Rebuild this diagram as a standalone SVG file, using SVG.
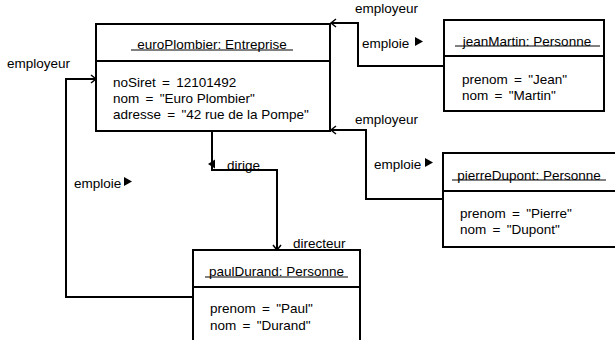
<svg xmlns="http://www.w3.org/2000/svg" width="615" height="340" viewBox="0 0 615 340">
  <style>
    text { font-family: "Liberation Sans", Arial, sans-serif; font-size: 13.5px; fill: #000; }
    .title { text-anchor: middle; }
    .eq { word-spacing: 2.5px; }
    .box { fill: #fff; stroke: #000; stroke-width: 2; }
    .sep { stroke: #000; stroke-width: 2; }
    .ul { stroke: #000; stroke-width: 1; }
    .conn { fill: none; stroke: #000; stroke-width: 2; marker-end: url(#open); }
    .tri { fill: #000; }
  </style>
  <defs>
    <marker id="open" viewBox="-8 -6 10 12" markerWidth="10" markerHeight="12" refX="0" refY="0" orient="auto" markerUnits="userSpaceOnUse">
      <path d="M-5,-4 L0,0 L-5,4" fill="none" stroke="#000" stroke-width="1.5"/>
    </marker>
  </defs>

  <!-- links between objects -->
  <g id="connectors">
    <path class="conn" d="M444,66 H358 V23 H331"/>
    <path class="conn" d="M443,199 H366 V130 H331"/>
    <path class="conn" d="M193,297 H66 V79 H96"/>
    <path class="conn" d="M212,132 V170 H277 V250"/>

    <text x="355" y="13">employeur</text>
    <text x="362" y="48">emploie</text>
    <polygon class="tri" points="415,37 423,41.5 415,46"/>

    <text x="355" y="124">employeur</text>
    <text x="374" y="169">emploie</text>
    <polygon class="tri" points="425,158 433,162.5 425,167"/>

    <text x="7" y="68">employeur</text>
    <text x="74" y="188">emploie</text>
    <polygon class="tri" points="124,177 132,181.5 124,186"/>

    <polygon class="tri" points="208,164 215,159.5 215,168.5"/>
    <text x="227" y="170">dirige</text>
    <text x="293" y="248">directeur</text>
  </g>

  <g id="euroPlombier">
    <rect class="box" x="96" y="24" width="234" height="107"/>
    <line class="sep" x1="96" y1="61" x2="330" y2="61"/>
    <text class="title" x="212" y="49">euroPlombier: Entreprise</text>
    <line class="ul" x1="131" y1="50" x2="293" y2="50"/>
    <text x="113" y="87">noSiret<tspan class="eq"> = </tspan>12101492</text>
    <text x="113" y="103">nom<tspan class="eq"> = </tspan>"Euro Plombier"</text>
    <text x="113" y="119">adresse<tspan class="eq"> = </tspan>"42 rue de la Pompe"</text>
  </g>

  <g id="jeanMartin">
    <rect class="box" x="444" y="20" width="160" height="91"/>
    <line class="sep" x1="444" y1="56" x2="604" y2="56"/>
    <text class="title" x="527" y="46">jeanMartin: Personne</text>
    <line class="ul" x1="455" y1="46" x2="600" y2="46"/>
    <text x="462" y="84">prenom<tspan class="eq"> = </tspan>"Jean"</text>
    <text x="462" y="100">nom<tspan class="eq"> = </tspan>"Martin"</text>
  </g>

  <g id="pierreDupont">
    <rect class="box" x="443" y="153" width="174" height="94"/>
    <line class="sep" x1="443" y1="191" x2="617" y2="191"/>
    <text class="title" x="529" y="180">pierreDupont: Personne</text>
    <line class="ul" x1="452" y1="180" x2="606" y2="180"/>
    <text x="460" y="218">prenom<tspan class="eq"> = </tspan>"Pierre"</text>
    <text x="460" y="234">nom<tspan class="eq"> = </tspan>"Dupont"</text>
  </g>

  <g id="paulDurand">
    <rect class="box" x="193" y="250" width="167" height="100"/>
    <line class="sep" x1="193" y1="287" x2="360" y2="287"/>
    <text class="title" x="276.5" y="276">paulDurand: Personne</text>
    <line class="ul" x1="205" y1="277" x2="348" y2="277"/>
    <text x="210" y="313">prenom<tspan class="eq"> = </tspan>"Paul"</text>
    <text x="210" y="330">nom<tspan class="eq"> = </tspan>"Durand"</text>
  </g>
</svg>
